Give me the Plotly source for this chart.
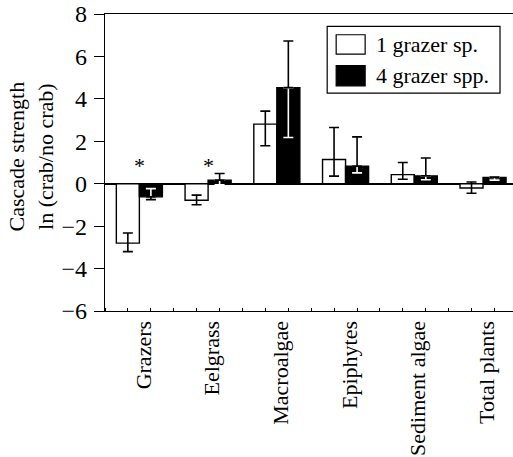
import plotly.graph_objects as go

categories = ["Grazers", "Eelgrass", "Macroalgae", "Epiphytes", "Sediment algae", "Total plants"]
series_names = ["1 grazer sp.", "4 grazer spp."]

one_vals = [-2.80, -0.78, 2.81, 1.14, 0.43, -0.20]
one_plus = [0.48, 0.24, 0.61, 1.51, 0.57, 0.28]
one_minus = [0.40, 0.21, 1.02, 0.78, 0.22, 0.25]

four_vals = [-0.62, 0.17, 4.53, 0.83, 0.37, 0.29]
four_plus = [0.39, 0.31, 2.20, 1.38, 0.84, 0.03]
four_minus = [0.13, 0.22, 2.35, 0.32, 0.18, 0.12]

star_cats = [0, 1]
star_y = [1.0, 1.0]

yticks = [-6, -4, -2, 0, 2, 4, 6, 8]

FONT = "Liberation Serif"
FS = 22
FS_Y = 24

x = list(range(len(categories)))

# split errors of the dark bars into the part inside the bar (drawn white) and outside (drawn black)
in_plus = [p if v < 0 else 0 for v, p in zip(four_vals, four_plus)]
in_minus = [m if v > 0 else 0 for v, m in zip(four_vals, four_minus)]
out_plus = [p if v >= 0 else 0 for v, p in zip(four_vals, four_plus)]
out_minus = [m if v <= 0 else 0 for v, m in zip(four_vals, four_minus)]

fig = go.Figure()
fig.add_bar(
    x=x, y=one_vals, name=series_names[0], offsetgroup="a",
    marker=dict(color="white", line=dict(color="black", width=1.4)),
    error_y=dict(type="data", symmetric=False, array=one_plus, arrayminus=one_minus,
                 color="black", thickness=1.6, width=5),
)
fig.add_bar(
    x=x, y=four_vals, name=series_names[1], offsetgroup="b",
    marker=dict(color="black", line=dict(color="black", width=1.4)),
    error_y=dict(type="data", symmetric=False, array=in_plus, arrayminus=in_minus,
                 color="white", thickness=1.6, width=5),
)
fig.add_bar(
    x=x, y=four_vals, offsetgroup="b", showlegend=False, hoverinfo="skip",
    marker=dict(color="rgba(0,0,0,0)", line=dict(width=0)),
    error_y=dict(type="data", symmetric=False, array=out_plus, arrayminus=out_minus,
                 color="black", thickness=1.6, width=5),
)

# significance stars
for c, yv in zip(star_cats, star_y):
    fig.add_annotation(x=c, y=yv, xref="x", yref="y", text="*", showarrow=False,
                       font=dict(family=FONT, size=FS, color="black"),
                       yanchor="middle", yshift=-3)

# plot-area geometry in pixels (for the hand-built legend / title placement)
L, R, T, B = 104.6, 513.0, 14.3, 310.7
def px(xp):
    return (xp - L) / (R - L)
def py(yp):
    return (B - yp) / (B - T)

# legend box
fig.add_shape(type="rect", xref="paper", yref="paper",
              x0=px(327), x1=px(500), y0=py(93.3), y1=py(26.7),
              line=dict(color="black", width=1.2), fillcolor="white")
fig.add_shape(type="rect", xref="paper", yref="paper",
              x0=px(336), x1=px(365), y0=py(54.3), y1=py(35),
              line=dict(color="black", width=1.2), fillcolor="white")
fig.add_shape(type="rect", xref="paper", yref="paper",
              x0=px(336), x1=px(365), y0=py(86), y1=py(65.7),
              line=dict(color="black", width=1.2), fillcolor="black")
fig.add_annotation(xref="paper", yref="paper", x=px(374), y=py(44.7), text=series_names[0],
                   showarrow=False, xanchor="left", yanchor="middle",
                   font=dict(family=FONT, size=FS, color="black"))
fig.add_annotation(xref="paper", yref="paper", x=px(374), y=py(76), text=series_names[1],
                   showarrow=False, xanchor="left", yanchor="middle",
                   font=dict(family=FONT, size=FS, color="black"))

# y-axis title
fig.add_annotation(xref="paper", yref="paper", x=px(31), y=py(156),
                   text="Cascade strength<br>ln (crab/no crab)", textangle=-90,
                   showarrow=False, xanchor="center", yanchor="middle",
                   font=dict(family=FONT, size=FS, color="black"))

fig.update_layout(
    width=513, height=457,
    margin=dict(l=L, r=0, t=T, b=457 - B, pad=0, autoexpand=False),
    paper_bgcolor="white", plot_bgcolor="white",
    barmode="group", bargap=0.33, bargroupgap=0,
    showlegend=False,
    font=dict(family=FONT, size=FS, color="black"),
)
fig.update_xaxes(
    range=[-0.5, -0.5 + (R - L) / 68.8],
    tickmode="array", tickvals=x, ticktext=categories, tickangle=-90,
    ticks="", ticklabelstandoff=0, ticklabelshift=4, automargin=False,
    showline=True, linecolor="black", linewidth=1.3, mirror=True,
    showgrid=False, zeroline=False,
    minor=dict(ticks="inside", tick0=-0.5, dtick=1/3, ticklen=3, tickcolor="black",
               tickwidth=1, showgrid=False),
    tickfont=dict(family=FONT, size=FS, color="black"),
)
fig.update_yaxes(
    range=[-6, 8], tickmode="array", tickvals=yticks, automargin=False,
    ticks="outside", ticklen=10, tickwidth=1.3, tickcolor="black",
    ticklabelstandoff=2,
    showline=True, linecolor="black", linewidth=1.3,
    showgrid=False, zeroline=True, zerolinecolor="black", zerolinewidth=1.6,
    tickfont=dict(family=FONT, size=FS_Y, color="black"),
)

fig.write_html("out.html", config={"displayModeBar": False},
               post_script="document.body.style.margin='0';document.body.style.padding='0';")
